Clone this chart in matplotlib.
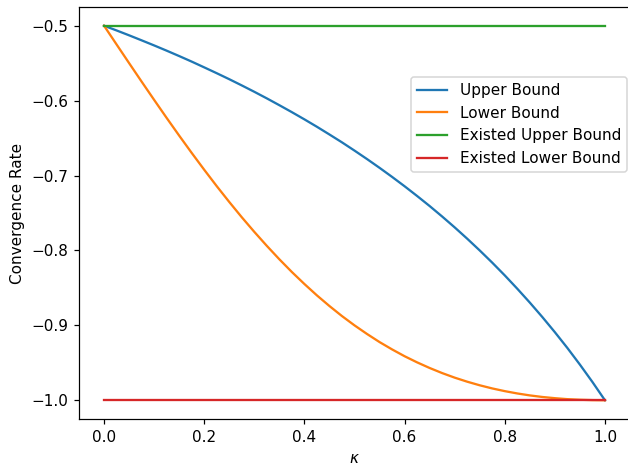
import matplotlib
matplotlib.use("Agg")
import matplotlib.pyplot as plt

kappa = [0.0, 0.025, 0.05, 0.075, 0.1, 0.125, 0.15, 0.175, 0.2, 0.225, 0.25,
         0.275, 0.3, 0.325, 0.35, 0.375, 0.4, 0.425, 0.45, 0.475, 0.5,
         0.525, 0.55, 0.575, 0.6, 0.625, 0.65, 0.675, 0.7, 0.725, 0.75,
         0.775, 0.8, 0.825, 0.85, 0.875, 0.9, 0.925, 0.95, 0.975, 1.0]
upper_bound = [-0.5, -0.5063, -0.5128, -0.5195, -0.5263, -0.5333, -0.5405,
               -0.5479, -0.5556, -0.5634, -0.5714, -0.5797, -0.5882, -0.5970,
               -0.6061, -0.6154, -0.625, -0.6349, -0.6452, -0.6557, -0.6667,
               -0.6780, -0.6897, -0.7018, -0.7143, -0.7273, -0.7407, -0.7547,
               -0.7692, -0.7843, -0.8, -0.8163, -0.8333, -0.8511, -0.8696,
               -0.8889, -0.9091, -0.9302, -0.9524, -0.9756, -1.0]
lower_bound = [-0.5, -0.5250, -0.5499, -0.5746, -0.5990, -0.6231, -0.6467,
               -0.6698, -0.6923, -0.7142, -0.7353, -0.7557, -0.7752, -0.7939,
               -0.8118, -0.8288, -0.8448, -0.8600, -0.8742, -0.8876, -0.9,
               -0.9115, -0.9223, -0.9321, -0.9412, -0.9494, -0.9569, -0.9637,
               -0.9698, -0.9752, -0.98, -0.9842, -0.9878, -0.9909, -0.9935,
               -0.9956, -0.9972, -0.9985, -0.9993, -0.9998, -1.0]
existed_upper = [-0.5, -0.5]
existed_lower = [-1.0, -1.0]
existed_x = [0.0, 1.0]
labels = ["Upper Bound", "Lower Bound", "Existed Upper Bound", "Existed Lower Bound"]

DPI = 110
fig = plt.figure(figsize=(628 / DPI, 463 / DPI), dpi=DPI)
ax = fig.add_axes([79/628, 1 - 419/463, (630 - 79)/628, (419 - 7)/463])
ax.plot(kappa, upper_bound, label=labels[0])
ax.plot(kappa, lower_bound, label=labels[1])
ax.plot(existed_x, existed_upper, label=labels[2])
ax.plot(existed_x, existed_lower, label=labels[3])
ax.set_xlabel(r"$\kappa$")
ax.set_ylabel("Convergence Rate")
ax.legend(loc="upper right", bbox_to_anchor=(627/628, 1 - 77/463),
          bbox_transform=fig.transFigure, borderaxespad=0)
fig.savefig("out.png", dpi=DPI)
